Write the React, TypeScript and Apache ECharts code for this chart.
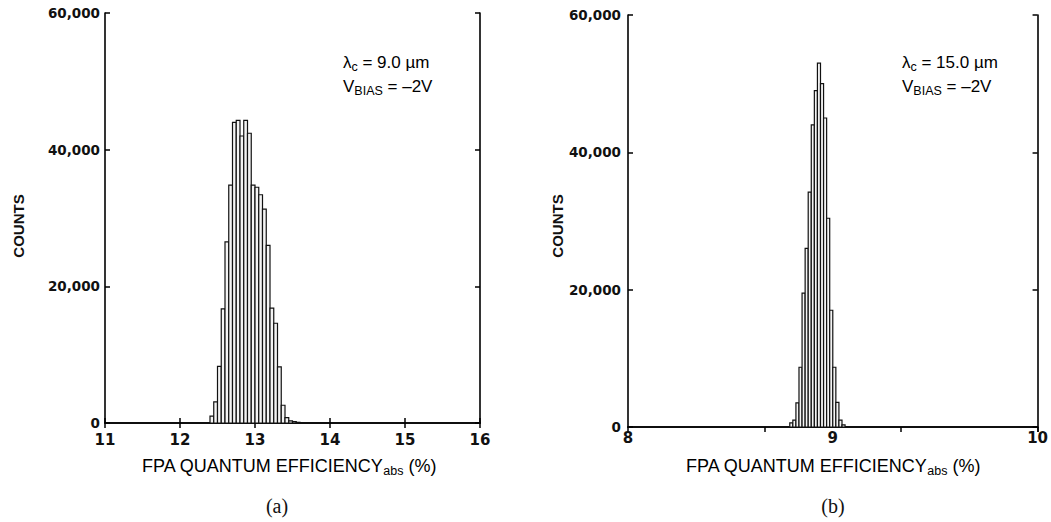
import React, { useEffect, useRef } from "react";
import * as echarts from "echarts";

// ---------- data ----------
// Panel (a): lambda_c = 9.0 um
const binStartA = 12.4;
const binWidthA = 0.05;
const countsA = [1000, 3100, 8300, 16700, 26500, 34800, 44000, 44300, 42000, 44300, 42400, 34800, 34500, 33400, 31300, 26000, 16800, 14600, 8200, 2600, 800, 300, 200, 100];
const xTicksA = { min: 11, max: 16, interval: 1 };

// Panel (b): lambda_c = 15.0 um
const binStartB = 8.79;
const binWidthB = 0.015;
const countsB = [600, 1000, 3500, 8700, 19500, 26000, 34200, 44000, 49000, 53000, 50000, 45000, 30400, 17000, 8700, 3600, 1000, 300];
const xTicksB = { min: 8, max: 10, interval: 1 };

const yTicks = { min: 0, max: 60000, interval: 20000 };

const annotA = ["9.0 \u00b5m", "\u20132V"];
const annotB = ["15.0 \u00b5m", "\u20132V"];

const FONT = "DejaVu Sans";
const SANS = "Liberation Sans";

function bins(start: number, width: number, counts: number[]) {
  return counts.map((c, i) => [start + i * width, start + (i + 1) * width, c]);
}

const renderBar = (params: any, api: any) => {
  const p0 = api.coord([api.value(0), api.value(2)]);
  const p1 = api.coord([api.value(1), 0]);
  return {
    type: "rect",
    shape: { x: p0[0], y: p0[1], width: p1[0] - p0[0], height: p1[1] - p0[1] },
    style: { fill: "#f4f4f4", stroke: "#111111", lineWidth: 1.2 },
  };
};

const axisLine = { show: true, lineStyle: { color: "#000", width: 1.6 } };

export default function App() {
  const ref = useRef<HTMLDivElement>(null);
  useEffect(() => {
    if (!ref.current) return;
    const chart = echarts.init(ref.current, null, { renderer: "svg" });
    const fmt = (v: number) => v.toLocaleString("en-US");
    const yLabel = (margin: number) => ({
      show: true,
      margin,
      formatter: fmt,
      fontFamily: FONT,
      fontWeight: "bold",
      fontSize: 13.5,
      color: "#111",
    });
    const xLabel = (margin: number) => ({
      show: true,
      margin,
      fontFamily: FONT,
      fontWeight: "bold",
      fontSize: 15,
      color: "#111",
    });
    const inTick = { show: true, inside: true, length: 5, lineStyle: { color: "#000", width: 1.5 } };
    const noLabel = { show: false };
    const split = { show: false };

    const titleRich = {
      a: { fontFamily: SANS, fontSize: 18, color: "#111" },
      s: { fontFamily: SANS, fontSize: 12.5, color: "#111", padding: [10, 0, 0, 0] },
    };
    const annRich = {
      a: { fontFamily: SANS, fontSize: 17, color: "#111" },
      s: { fontFamily: SANS, fontSize: 12.5, color: "#111", padding: [9, 0, 0, 0] },
    };

    const option: any = {
      animation: false,
      backgroundColor: "#fff",
      grid: [
        { left: 105, right: 571, top: 13, bottom: 99, show: false },
        { left: 628, right: 9, top: 15, bottom: 95, show: false },
      ],
      xAxis: [
        { type: "value", gridIndex: 0, position: "bottom", ...xTicksA, axisLine, axisTick: inTick, axisLabel: xLabel(9), splitLine: split },
        { type: "value", gridIndex: 0, position: "top", ...xTicksA, axisLine, axisTick: inTick, axisLabel: noLabel, splitLine: split },
        { type: "value", gridIndex: 1, position: "bottom", ...xTicksB, axisLine, axisTick: { show: false }, axisLabel: xLabel(3), splitLine: split },
        { type: "value", gridIndex: 1, position: "top", min: 8, max: 10, interval: 2 / 3, axisLine, axisTick: inTick, axisLabel: noLabel, splitLine: split },
      ],
      yAxis: [
        { type: "value", gridIndex: 0, position: "left", ...yTicks, axisLine, axisTick: inTick, axisLabel: yLabel(5), splitLine: split },
        { type: "value", gridIndex: 0, position: "right", ...yTicks, axisLine, axisTick: inTick, axisLabel: noLabel, splitLine: split },
        { type: "value", gridIndex: 1, position: "left", ...yTicks, axisLine, axisTick: inTick, axisLabel: yLabel(7), splitLine: split },
        { type: "value", gridIndex: 1, position: "right", ...yTicks, axisLine, axisTick: inTick, axisLabel: noLabel, splitLine: split },
      ],
      series: [
        {
          type: "custom",
          xAxisIndex: 0,
          yAxisIndex: 0,
          renderItem: renderBar,
          encode: { x: [0, 1], y: 2 },
          data: bins(binStartA, binWidthA, countsA),
        },
        {
          type: "custom",
          xAxisIndex: 2,
          yAxisIndex: 2,
          renderItem: renderBar,
          encode: { x: [0, 1], y: 2 },
          data: bins(binStartB, binWidthB, countsB),
        },
      ],
      graphic: [
        {
          type: "text", x: 18, y: 226, rotation: Math.PI / 2,
          style: { text: "COUNTS", fontFamily: SANS, fontSize: 15, fontWeight: "bold", fill: "#111", align: "center", verticalAlign: "middle" },
        },
        {
          type: "text", x: 557, y: 226, rotation: Math.PI / 2,
          style: { text: "COUNTS", fontFamily: SANS, fontSize: 15, fontWeight: "bold", fill: "#111", align: "center", verticalAlign: "middle" },
        },
        {
          type: "text", x: 289, y: 466,
          style: { text: "{a|FPA QUANTUM EFFICIENCY}{s|abs}{a| (%)}", rich: titleRich, align: "center", verticalAlign: "middle" },
        },
        {
          type: "text", x: 833, y: 466,
          style: { text: "{a|FPA QUANTUM EFFICIENCY}{s|abs}{a| (%)}", rich: titleRich, align: "center", verticalAlign: "middle" },
        },
        {
          type: "text", x: 277, y: 506,
          style: { text: "(a)", fontFamily: "Liberation Serif", fontSize: 20, fill: "#111", align: "center", verticalAlign: "middle" },
        },
        {
          type: "text", x: 833, y: 506,
          style: { text: "(b)", fontFamily: "Liberation Serif", fontSize: 20, fill: "#111", align: "center", verticalAlign: "middle" },
        },
        {
          type: "text", x: 343, y: 62,
          style: { text: `{a|\u03bb}{s|c}{a| = ${annotA[0]}}`, rich: annRich, align: "left", verticalAlign: "middle" },
        },
        {
          type: "text", x: 343, y: 86,
          style: { text: `{a|V}{s|BIAS}{a| = ${annotA[1]}}`, rich: annRich, align: "left", verticalAlign: "middle" },
        },
        {
          type: "text", x: 902, y: 62,
          style: { text: `{a|\u03bb}{s|c}{a| = ${annotB[0]}}`, rich: annRich, align: "left", verticalAlign: "middle" },
        },
        {
          type: "text", x: 902, y: 86,
          style: { text: `{a|V}{s|BIAS}{a| = ${annotB[1]}}`, rich: annRich, align: "left", verticalAlign: "middle" },
        },
      ],
    };
    chart.setOption(option);
    return () => chart.dispose();
  }, []);
  return (
    <div
      ref={ref}
      style={{ position: "absolute", left: 0, top: 0, width: 1051, height: 522, background: "#fff" }}
    />
  );
}
